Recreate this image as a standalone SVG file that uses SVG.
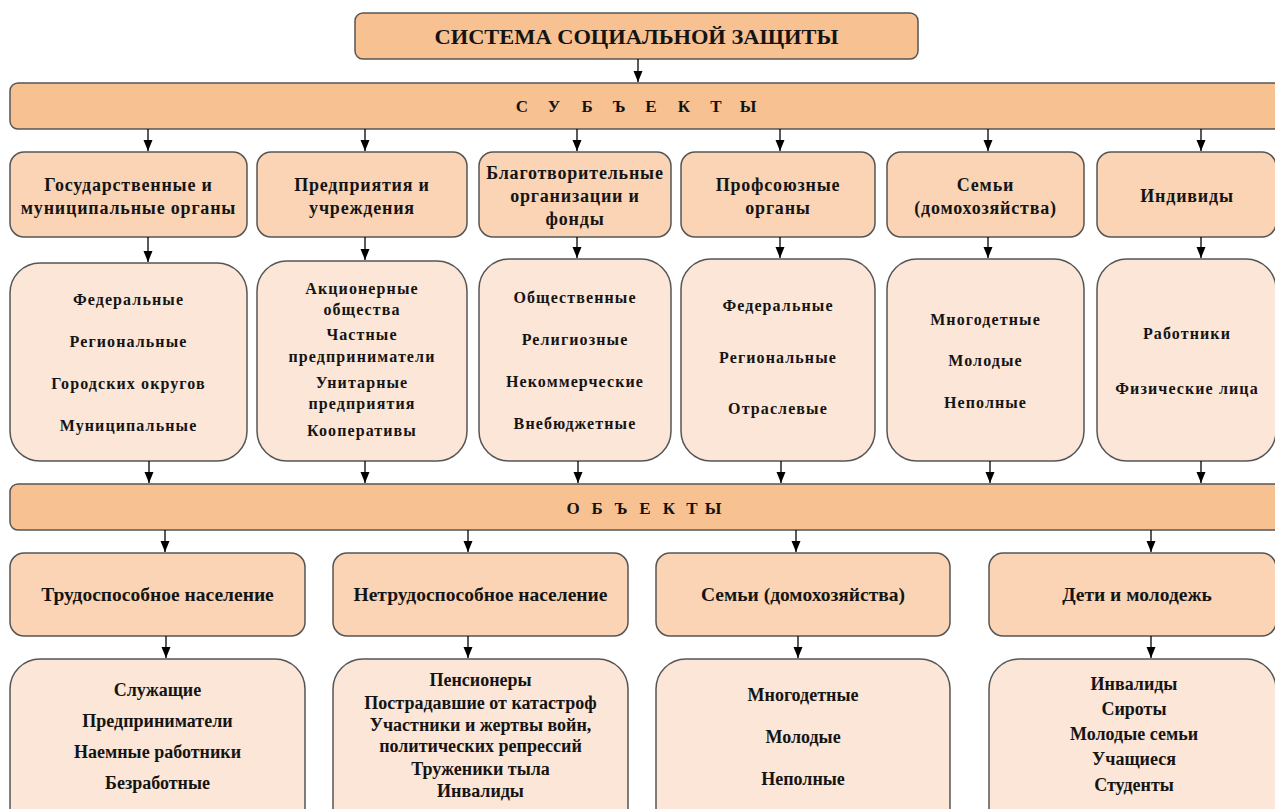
<svg xmlns="http://www.w3.org/2000/svg" width="1275" height="809" viewBox="0 0 1275 809">
<style>
.t{font-family:"Liberation Serif","Times New Roman",serif;font-weight:bold;fill:#141414;text-anchor:middle}
.band{fill:#F8C192;stroke:#555;stroke-width:1.5}
.hd{fill:#FAD4B5;stroke:#555;stroke-width:1.5}
.it{fill:#FCE6D7;stroke:#555;stroke-width:1.5}
.h1{font-size:18px;letter-spacing:0.8px}
.i2{font-size:16px;letter-spacing:1.1px}
.h3{font-size:19.5px}
.i4{font-size:18px}
.bl{font-size:17px}
.c line{stroke:#000;stroke-width:1.3;marker-end:url(#ah)}
</style>
<defs>
<marker id="ah" markerUnits="userSpaceOnUse" markerWidth="10" markerHeight="12" refX="5" refY="11" orient="0">
<path d="M0.5,0 L9.5,0 L5,11 Z" fill="#000"/>
</marker>
</defs>
<rect width="1275" height="809" fill="#fff"/>

<g id="title">
<rect x="355" y="13" width="563" height="46" rx="8" class="band"/>
<text class="t" x="636.5" y="44" font-size="21" textLength="404" lengthAdjust="spacingAndGlyphs">СИСТЕМА СОЦИАЛЬНОЙ ЗАЩИТЫ</text>
</g>

<g id="subjects">
<rect x="10" y="83" width="1290" height="46" rx="8" class="band"/>
<text class="t bl" y="112" x="522 554 587 619 651 684 716 748">СУБЪЕКТЫ</text>
</g>

<g id="s1"><rect x="10" y="152" width="237" height="85" rx="14" class="hd"/>
<text class="t h1" x="128.5" y="191">Государственные и</text>
<text class="t h1" x="128.5" y="214">муниципальные органы</text></g>
<g id="s2"><rect x="257" y="152" width="210" height="85" rx="14" class="hd"/>
<text class="t h1" x="362" y="191">Предприятия и</text>
<text class="t h1" x="362" y="214">учреждения</text></g>
<g id="s3"><rect x="479" y="152" width="192" height="85" rx="14" class="hd"/>
<text class="t h1" x="575" y="179">Благотворительные</text>
<text class="t h1" x="575" y="202">организации и</text>
<text class="t h1" x="575" y="225">фонды</text></g>
<g id="s4"><rect x="681" y="152" width="194" height="85" rx="14" class="hd"/>
<text class="t h1" x="778" y="191">Профсоюзные</text>
<text class="t h1" x="778" y="214">органы</text></g>
<g id="s5"><rect x="887" y="152" width="197" height="85" rx="14" class="hd"/>
<text class="t h1" x="985.5" y="191">Семьи</text>
<text class="t h1" x="985.5" y="214">(домохозяйства)</text></g>
<g id="s6"><rect x="1097" y="152" width="179" height="85" rx="14" class="hd"/>
<text class="t h1" x="1187" y="202">Индивиды</text></g>

<g id="s1i"><rect x="10" y="263" width="237" height="198" rx="30" class="it"/>
<text class="t i2" x="128.5" y="305">Федеральные</text>
<text class="t i2" x="128.5" y="347">Региональные</text>
<text class="t i2" x="128.5" y="389">Городских округов</text>
<text class="t i2" x="128.5" y="431">Муниципальные</text></g>
<g id="s2i"><rect x="257" y="261" width="210" height="200" rx="30" class="it"/>
<text class="t i2" x="362" y="294">Акционерные</text>
<text class="t i2" x="362" y="315">общества</text>
<text class="t i2" x="362" y="340">Частные</text>
<text class="t i2" x="362" y="362">предприниматели</text>
<text class="t i2" x="362" y="388">Унитарные</text>
<text class="t i2" x="362" y="409">предприятия</text>
<text class="t i2" x="362" y="436">Кооперативы</text></g>
<g id="s3i"><rect x="479" y="259" width="192" height="202" rx="30" class="it"/>
<text class="t i2" x="575" y="303">Общественные</text>
<text class="t i2" x="575" y="345">Религиозные</text>
<text class="t i2" x="575" y="387">Некоммерческие</text>
<text class="t i2" x="575" y="429">Внебюджетные</text></g>
<g id="s4i"><rect x="681" y="259" width="194" height="202" rx="30" class="it"/>
<text class="t i2" x="778" y="311">Федеральные</text>
<text class="t i2" x="778" y="363">Региональные</text>
<text class="t i2" x="778" y="414">Отраслевые</text></g>
<g id="s5i"><rect x="887" y="259" width="197" height="202" rx="30" class="it"/>
<text class="t i2" x="985.5" y="325">Многодетные</text>
<text class="t i2" x="985.5" y="366">Молодые</text>
<text class="t i2" x="985.5" y="408">Неполные</text></g>
<g id="s6i"><rect x="1097" y="259" width="179" height="202" rx="30" class="it"/>
<text class="t i2" x="1187" y="339">Работники</text>
<text class="t i2" x="1187" y="394">Физические лица</text></g>

<g id="objects">
<rect x="10" y="484" width="1290" height="46" rx="8" class="band"/>
<text class="t bl" y="514" x="573 597 621 645 669 692 713">ОБЪЕКТЫ</text>
</g>

<g id="o1"><rect x="10" y="553" width="295" height="83" rx="14" class="hd"/>
<text class="t h3" x="157.5" y="601">Трудоспособное население</text></g>
<g id="o2"><rect x="333" y="553" width="295" height="83" rx="14" class="hd"/>
<text class="t h3" x="480.5" y="601">Нетрудоспособное население</text></g>
<g id="o3"><rect x="656" y="553" width="294" height="83" rx="14" class="hd"/>
<text class="t h3" x="803" y="601">Семьи (домохозяйства)</text></g>
<g id="o4"><rect x="989" y="553" width="287" height="83" rx="14" class="hd"/>
<text class="t h3" x="1137" y="601">Дети и молодежь</text></g>

<g id="o1i"><rect x="10" y="659" width="295" height="180" rx="30" class="it"/>
<text class="t i4" x="157.5" y="696">Служащие</text>
<text class="t i4" x="157.5" y="727">Предприниматели</text>
<text class="t i4" x="157.5" y="758">Наемные работники</text>
<text class="t i4" x="157.5" y="789">Безработные</text></g>
<g id="o2i"><rect x="333" y="659" width="295" height="180" rx="30" class="it"/>
<text class="t i4" x="480.5" y="686">Пенсионеры</text>
<text class="t i4" x="480.5" y="709">Пострадавшие от катастроф</text>
<text class="t i4" x="480.5" y="731">Участники и жертвы войн,</text>
<text class="t i4" x="480.5" y="752">политических репрессий</text>
<text class="t i4" x="480.5" y="775">Труженики тыла</text>
<text class="t i4" x="480.5" y="797">Инвалиды</text></g>
<g id="o3i"><rect x="656" y="659" width="294" height="180" rx="30" class="it"/>
<text class="t i4" x="803" y="701">Многодетные</text>
<text class="t i4" x="803" y="743">Молодые</text>
<text class="t i4" x="803" y="785">Неполные</text></g>
<g id="o4i"><rect x="989" y="659" width="287" height="180" rx="30" class="it"/>
<text class="t i4" x="1134" y="690">Инвалиды</text>
<text class="t i4" x="1134" y="715">Сироты</text>
<text class="t i4" x="1134" y="740">Молодые семьи</text>
<text class="t i4" x="1134" y="765">Учащиеся</text>
<text class="t i4" x="1134" y="791">Студенты</text></g>

<g id="connectors" class="c">
<line x1="638" y1="59" x2="638" y2="82"/>
<line x1="148" y1="129" x2="148" y2="151"/>
<line x1="365" y1="129" x2="365" y2="151"/>
<line x1="577" y1="129" x2="577" y2="151"/>
<line x1="780" y1="129" x2="780" y2="151"/>
<line x1="988" y1="129" x2="988" y2="151"/>
<line x1="1201" y1="129" x2="1201" y2="151"/>
<line x1="148" y1="237" x2="148" y2="262"/>
<line x1="365" y1="237" x2="365" y2="260"/>
<line x1="577" y1="237" x2="577" y2="258"/>
<line x1="780" y1="237" x2="780" y2="258"/>
<line x1="988" y1="237" x2="988" y2="258"/>
<line x1="1201" y1="237" x2="1201" y2="258"/>
<line x1="149" y1="461" x2="149" y2="483"/>
<line x1="365" y1="461" x2="365" y2="483"/>
<line x1="578" y1="461" x2="578" y2="483"/>
<line x1="781" y1="461" x2="781" y2="483"/>
<line x1="990" y1="461" x2="990" y2="483"/>
<line x1="1201" y1="461" x2="1201" y2="483"/>
<line x1="165" y1="530" x2="165" y2="552"/>
<line x1="468" y1="530" x2="468" y2="552"/>
<line x1="796" y1="530" x2="796" y2="552"/>
<line x1="1151" y1="530" x2="1151" y2="552"/>
<line x1="166" y1="636" x2="166" y2="658"/>
<line x1="468" y1="636" x2="468" y2="658"/>
<line x1="798" y1="636" x2="798" y2="658"/>
<line x1="1151" y1="636" x2="1151" y2="658"/>
</g>
</svg>
